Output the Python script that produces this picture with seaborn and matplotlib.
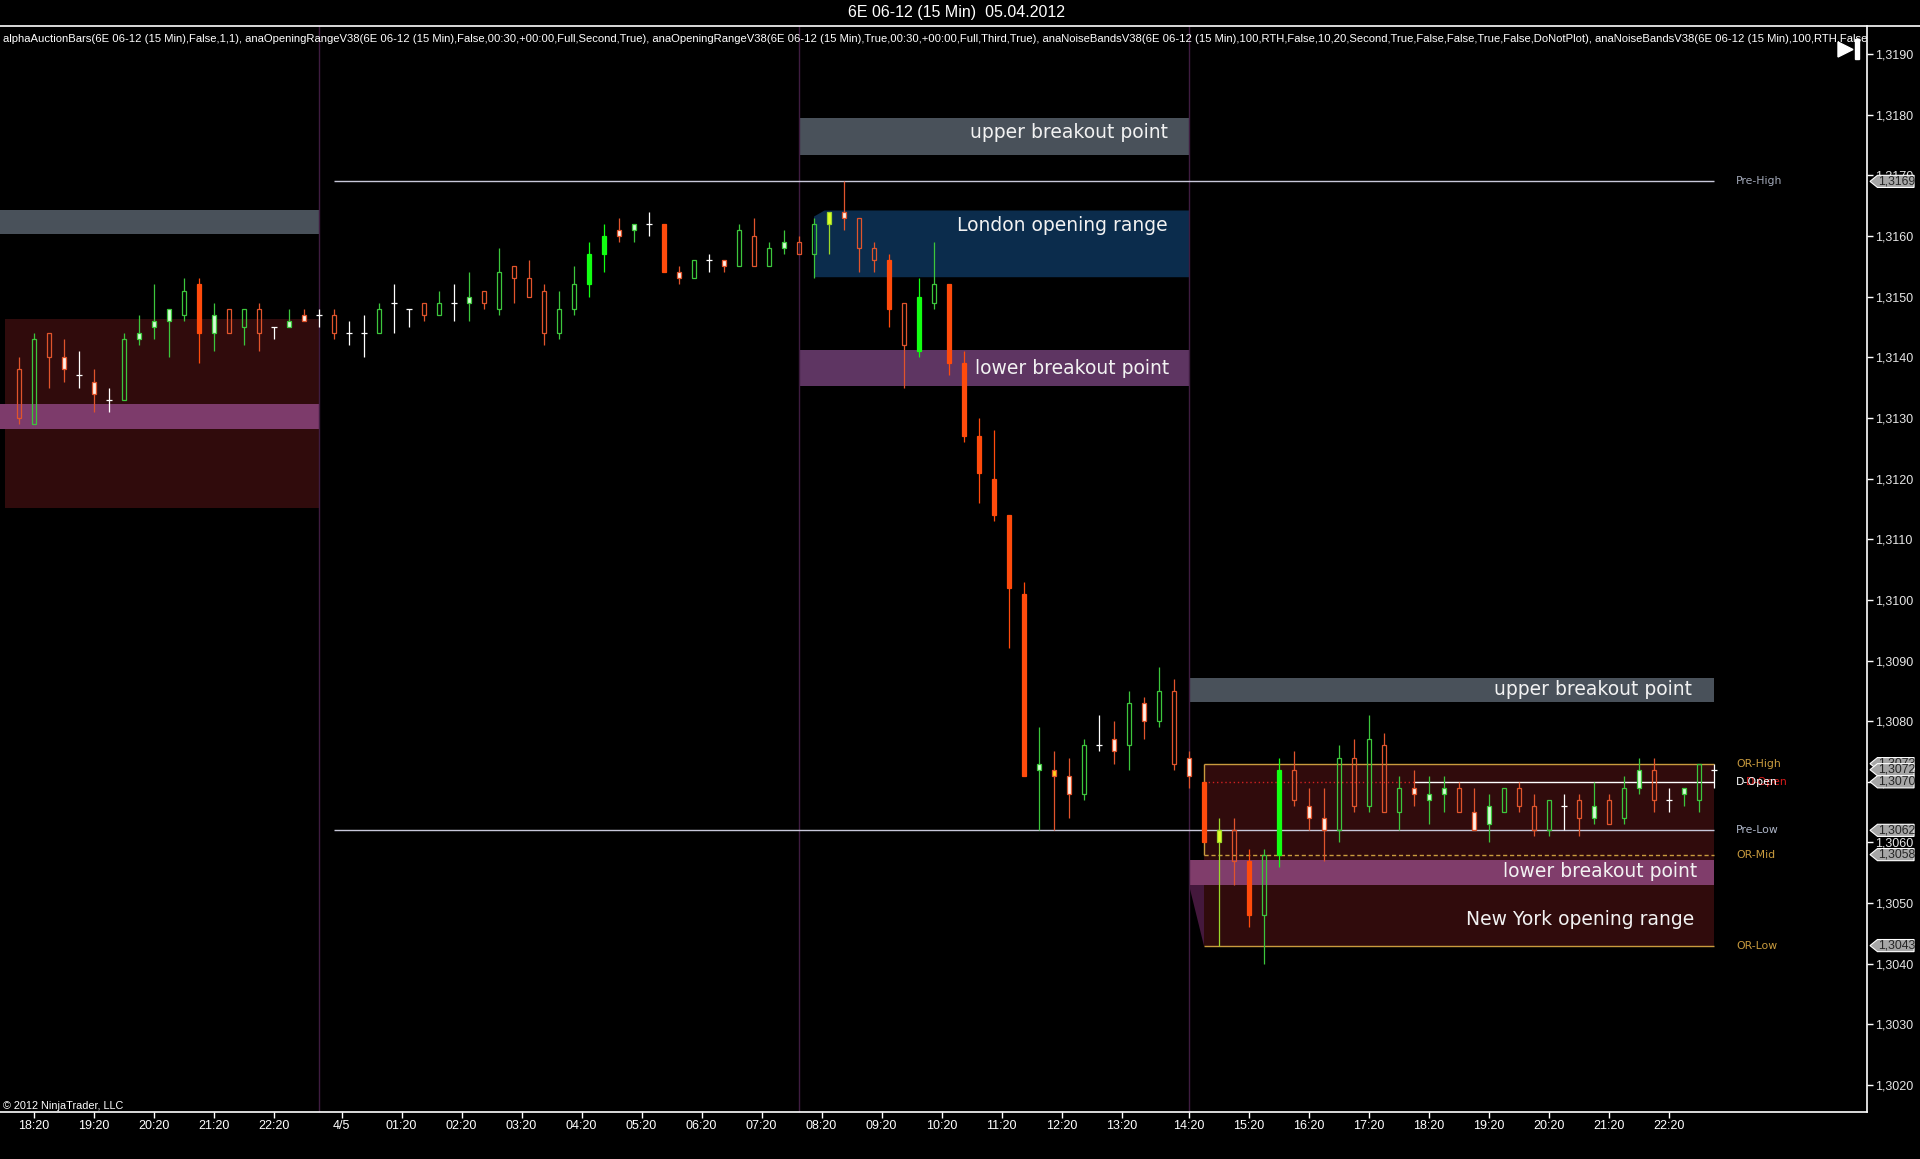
import numpy as np
from matplotlib import pyplot as plt
from matplotlib.patches import Polygon, Rectangle
from matplotlib.lines import Line2D
from matplotlib.ticker import FuncFormatter
import seaborn as sns

# 6E 06-12, 15 min bars, prices in pips (13138 -> 1,3138)
opens = [13138, 13129, 13144, 13140, 13137, 13136, 13133, 13133, 13143, 13145,
         13146, 13147, 13152, 13144, 13148, 13145, 13148, 13145, 13145, 13147,
         13147, 13147, 13144, 13144, 13144, 13149, 13148, 13149, 13147, 13149,
         13149, 13151, 13148, 13155, 13153, 13151, 13144, 13148, 13152, 13157,
         13161, 13161, 13162, 13162, 13154, 13153, 13156, 13156, 13155, 13160,
         13155, 13158, 13159, 13157, 13162, 13164, 13163, 13158, 13156, 13149,
         13141, 13149, 13152, 13139, 13127, 13120, 13114, 13101, 13072, 13072,
         13071, 13068, 13076, 13077, 13076, 13083, 13080, 13085, 13074, 13070,
         13060, 13062, 13057, 13048, 13058, 13072, 13066, 13064, 13062, 13074,
         13066, 13076, 13065, 13069, 13067, 13068, 13069, 13065, 13063, 13065,
         13069, 13066, 13062, 13066, 13067, 13064, 13067, 13064, 13069, 13072,
         13067, 13068, 13067, 13072]
highs = [13140, 13144, 13144, 13143, 13141, 13138, 13135, 13144, 13147, 13152,
         13148, 13153, 13153, 13149, 13148, 13148, 13149, 13145, 13148, 13148,
         13148, 13148, 13146, 13147, 13149, 13152, 13148, 13149, 13151, 13152,
         13154, 13151, 13158, 13155, 13156, 13152, 13151, 13155, 13159, 13162,
         13163, 13162, 13164, 13162, 13155, 13156, 13157, 13156, 13162, 13163,
         13159, 13161, 13160, 13163, 13164, 13169, 13163, 13159, 13157, 13149,
         13153, 13159, 13152, 13141, 13130, 13128, 13114, 13103, 13079, 13075,
         13074, 13077, 13081, 13080, 13085, 13084, 13089, 13087, 13075, 13070,
         13064, 13064, 13059, 13059, 13074, 13075, 13069, 13069, 13076, 13077,
         13081, 13078, 13071, 13072, 13071, 13071, 13070, 13069, 13068, 13069,
         13070, 13068, 13067, 13068, 13068, 13070, 13068, 13071, 13074, 13074,
         13069, 13069, 13073, 13073]
lows = [13129, 13129, 13135, 13136, 13135, 13131, 13131, 13133, 13142, 13143,
        13140, 13146, 13139, 13141, 13144, 13142, 13141, 13143, 13145, 13146,
        13145, 13143, 13142, 13140, 13144, 13144, 13145, 13146, 13147, 13146,
        13146, 13148, 13147, 13149, 13150, 13142, 13143, 13147, 13150, 13154,
        13159, 13159, 13160, 13154, 13152, 13153, 13154, 13154, 13155, 13155,
        13155, 13157, 13157, 13153, 13157, 13161, 13154, 13154, 13145, 13135,
        13140, 13148, 13137, 13126, 13116, 13113, 13092, 13071, 13062, 13062,
        13064, 13067, 13075, 13073, 13072, 13077, 13079, 13072, 13069, 13060,
        13043, 13053, 13046, 13040, 13056, 13066, 13062, 13057, 13060, 13065,
        13065, 13065, 13062, 13066, 13063, 13065, 13065, 13062, 13060, 13065,
        13065, 13061, 13061, 13062, 13061, 13063, 13063, 13063, 13068, 13065,
        13065, 13066, 13065, 13069]
closes = [13130, 13143, 13140, 13138, 13137, 13134, 13133, 13143, 13144, 13146,
          13148, 13151, 13144, 13147, 13144, 13148, 13144, 13145, 13146, 13146,
          13147, 13144, 13144, 13144, 13148, 13149, 13148, 13147, 13149, 13149,
          13150, 13149, 13154, 13153, 13150, 13144, 13148, 13152, 13157, 13160,
          13160, 13162, 13162, 13154, 13153, 13156, 13156, 13155, 13161, 13155,
          13158, 13159, 13157, 13162, 13164, 13163, 13158, 13156, 13148, 13142,
          13150, 13152, 13139, 13127, 13121, 13114, 13102, 13071, 13073, 13071,
          13068, 13076, 13076, 13075, 13083, 13080, 13085, 13073, 13071, 13060,
          13062, 13057, 13048, 13058, 13072, 13067, 13064, 13062, 13074, 13066,
          13077, 13065, 13069, 13068, 13068, 13069, 13065, 13062, 13066, 13069,
          13066, 13062, 13067, 13066, 13064, 13066, 13063, 13069, 13072, 13067,
          13067, 13069, 13073, 13072]
# r/g = down/up, h = hollow, f = filled, l = light fill, y = yellow fill, d = doji
styles = ['rh', 'gh', 'rh', 'rl', 'd', 'rl', 'd', 'gh', 'gl', 'gl',
          'gl', 'gh', 'rf', 'gl', 'rh', 'gh', 'rh', 'd', 'gl', 'rl',
          'd', 'rh', 'd', 'd', 'gh', 'd', 'd', 'rh', 'gh', 'd',
          'gl', 'rh', 'gh', 'rh', 'rh', 'rh', 'gh', 'gh', 'gf', 'gf',
          'rl', 'gl', 'd', 'rf', 'rl', 'gh', 'd', 'rl', 'gh', 'rh',
          'gh', 'gl', 'rh', 'gh', 'gy', 'rl', 'rh', 'rh', 'rf', 'rh',
          'gf', 'gh', 'rf', 'rf', 'rf', 'rf', 'rf', 'rf', 'gl', 'ry',
          'rl', 'gh', 'd', 'rl', 'gh', 'rl', 'gh', 'rh', 'rl', 'rf',
          'gy', 'rh', 'rf', 'gh', 'gf', 'rh', 'rl', 'rl', 'gh', 'rh',
          'gh', 'rh', 'gh', 'rl', 'gl', 'gl', 'rh', 'rl', 'gl', 'gh',
          'rh', 'rh', 'gh', 'd', 'rh', 'gl', 'rh', 'gh', 'gl', 'rh',
          'd', 'gl', 'gh', 'd']

tick_pos = [1, 5, 9, 13, 17, 21.5, 25.5, 29.5, 33.5, 37.5, 41.5, 45.5, 49.5, 53.5,
            57.5, 61.5, 65.5, 69.5, 73.5, 78, 82, 86, 90, 94, 98, 102, 106, 110]
tick_labels = ['18:20', '19:20', '20:20', '21:20', '22:20', '4/5', '01:20', '02:20',
               '03:20', '04:20', '05:20', '06:20', '07:20', '08:20', '09:20', '10:20',
               '11:20', '12:20', '13:20', '14:20', '15:20', '16:20', '17:20', '18:20',
               '19:20', '20:20', '21:20', '22:20']
session_bars = [20, 52, 78]

# opening range zones: (first bar, last bar, low, high, colour)
zones = [(-1.3, 20, 13160.3, 13164.3, '#49515a'),
         (-0.93, 20, 13115.1, 13146.3, '#300b0c'),
         (-1.3, 20, 13128.1, 13132.3, '#7d3b6b'),
         (52, 78, 13173.3, 13179.5, '#49515a'),
         (52, 78, 13135.3, 13141.2, '#5e3562'),
         (78, 113, 13083.2, 13087.1, '#49515a'),
         (79, 113, 13043.0, 13073.0, '#300b0c'),
         (78, 113, 13053.0, 13057.1, '#803d6b')]
zone_texts = [('upper breakout point', 76.6, 13177.1),
              ('London opening range', 76.6, 13161.8),
              ('lower breakout point', 76.7, 13138.1),
              ('upper breakout point', 111.5, 13085.2),
              ('lower breakout point', 111.9, 13055.2),
              ('New York opening range', 111.7, 13047.3)]

pre_high, pre_low = 13169, 13062
or_high, or_mid, or_low, d_open = 13073, 13058, 13043, 13070
tag_prices = [13169, 13073, 13072, 13070, 13062, 13058, 13043]
level_names = ['Pre-High', 'OR-High', 'Pre-Low', 'OR-Mid', 'OR-Low']
level_prices = [pre_high, or_high, pre_low, or_mid, or_low]
level_colors = ['#a2a8b8', '#c99b3e', '#aeb6c8', '#c99b3e', '#c99b3e']

indicators = ("alphaAuctionBars(6E 06-12 (15 Min),False,1,1), anaOpeningRangeV38(6E 06-12 (15 Min),"
              "False,00:30,+00:00,Full,Second,True), anaOpeningRangeV38(6E 06-12 (15 Min),True,00:30,"
              "+00:00,Full,Third,True), anaNoiseBandsV38(6E 06-12 (15 Min),100,RTH,False,10,20,Second,"
              "True,False,False,True,False,DoNotPlot), anaNoiseBandsV38(6E 06-12 (15 Min),100,RTH,False,1")

sns.set_theme(style='dark', rc={'axes.facecolor': 'black', 'figure.facecolor': 'black',
                                'axes.edgecolor': 'white', 'text.color': 'white'})
plt.rcParams['font.family'] = ['DejaVu Sans']
narrow = ['Liberation Sans Narrow', 'Liberation Sans', 'DejaVu Sans']

W, H = 1920, 1159
fig = plt.figure(figsize=(19.2, 11.59), dpi=100)
ax = fig.add_axes([0, 1 - 1112 / H, 1867 / W, (1112 - 25.7) / H])
ax.set_facecolor('black')
ax.grid(False)

o = np.array(opens) / 1e4
h = np.array(highs) / 1e4
lo = np.array(lows) / 1e4
c = np.array(closes) / 1e4
st = np.array(styles)
x = np.arange(len(o))

# zones
for x0, x1, z0, z1, col in zones:
    ax.add_patch(Rectangle((x0, z0 / 1e4), x1 - x0, (z1 - z0) / 1e4, color=col, lw=0, zorder=1))
ax.add_patch(Polygon([(53, 1.31532), (53, 1.31632), (53.7, 1.31642), (78, 1.31642), (78, 1.31532)],
                     closed=True, color='#0b2c4c', lw=0, zorder=1))
ax.add_patch(Polygon([(78, 1.30530), (79, 1.30530), (79, 1.30430)],
                     closed=True, color='#44183c', lw=0, zorder=1))
for txt, tx, ty in zone_texts:
    ax.text(tx, ty / 1e4, txt, ha='right', va='center', fontsize=13.5, color='#f2f2f2', zorder=6)

for sb in session_bars:
    ax.axvline(sb, color='#3e1c40', lw=1, zorder=1.5)

# levels
ax.hlines([pre_high / 1e4, pre_low / 1e4], 21, 113, color='#c8c8da', lw=1, zorder=2)
ax.hlines([or_high / 1e4, or_low / 1e4], 79, 113, color='#c99b3e', lw=1, zorder=2)
ax.hlines(or_mid / 1e4, 79, 113, color='#c99b3e', lw=1, linestyles=(0, (3, 2)), zorder=2)
ax.vlines(79, or_mid / 1e4, or_high / 1e4, color='#c99b3e', lw=1, zorder=2)
ax.hlines(d_open / 1e4, 79, 93, color='#d02020', lw=1, linestyles=(0, (1, 2)), zorder=2)
ax.hlines(d_open / 1e4, 93, 113, color='white', lw=1, zorder=2)

# candles
red, red_f, green, green_f = '#e0542c', '#ff4b0c', '#3cc63c', '#12ff12'
faces = {'rh': 'none', 'rf': red_f, 'rl': '#fff0e6', 'ry': '#ffd21e',
         'gh': 'none', 'gf': green_f, 'gl': '#d6ffd6', 'gy': '#e4ff2a'}
edges = {'rh': red, 'rf': red_f, 'rl': red, 'ry': red,
         'gh': green, 'gf': green_f, 'gl': green, 'gy': '#9ad82a'}
body = st != 'd'
top = np.maximum(o, c)
bot = np.minimum(o, c)
wick_col = [edges[s] for s in st[body]]
ax.vlines(x[body], top[body], h[body], colors=wick_col, lw=0.9, zorder=3)
ax.vlines(x[body], lo[body], bot[body], colors=wick_col, lw=0.9, zorder=3)
ax.bar(x[body], (top - bot)[body], bottom=bot[body], width=0.3,
       color=[faces[s] for s in st[body]], edgecolor=wick_col, linewidth=0.9, zorder=4)
dj = ~body
ax.vlines(x[dj], lo[dj], h[dj], colors='white', lw=0.9, zorder=4)
ax.hlines(o[dj], x[dj] - 0.2, x[dj] + 0.2, colors='white', lw=0.9, zorder=4)

# labels of levels
for name, p, col in zip(level_names, level_prices, level_colors):
    ax.text(114.47, p / 1e4, name, color=col, fontsize=7.8, va='center', ha='left', zorder=6)
ax.text(115.1, d_open / 1e4, 'D-Open', color='#d81c1c', fontsize=7.8, va='center', ha='left', zorder=6)
ax.text(114.47, d_open / 1e4, 'D-Open', color='white', fontsize=7.8, va='center', ha='left', zorder=6)

ax.set_xlim(-1.267, 123.2)
ax.set_ylim(1.301556, 1.319467)

# price tags on the axis
ytr = ax.get_yaxis_transform()
hh = 0.000100
for i, p in enumerate(tag_prices):
    pp = p / 1e4
    ax.add_patch(Polygon([(1.0016, pp), (1.0056, pp + hh), (1.0252, pp + hh), (1.0252, pp - hh),
                          (1.0056, pp - hh)], closed=True, transform=ytr, clip_on=False,
                         facecolor='#a6a6a6', edgecolor='white', lw=0.8, zorder=10 + i))
    ax.text(1.0060, pp, f"{pp:.4f}".replace('.', ','), transform=ytr, clip_on=False,
            fontsize=8.8, family=['Liberation Sans', 'DejaVu Sans'], color='#262626',
            va='center', ha='left', zorder=10 + i)

ax.set_yticks(np.arange(13020, 13191, 10) / 1e4)
ax.yaxis.set_major_formatter(FuncFormatter(lambda v, _: f"{v:.4f}".replace('.', ',')))
ax.yaxis.tick_right()
ax.tick_params(axis='y', right=True, left=False, length=4, width=1, color='white',
               labelsize=9, labelcolor='#e6e6e6', pad=1.5)
for lab in ax.get_yticklabels():
    lab.set_family(['Liberation Sans', 'DejaVu Sans'])
ax.set_xticks(tick_pos)
ax.set_xticklabels(tick_labels)
ax.tick_params(axis='x', bottom=True, length=4, width=1, color='white',
               labelsize=9, labelcolor='white', pad=2)
for lab in ax.get_xticklabels():
    lab.set_family(narrow)

for side in ['left', 'top']:
    ax.spines[side].set_visible(False)
for side in ['right', 'bottom']:
    ax.spines[side].set_color('white')
    ax.spines[side].set_linewidth(1.2)

# header and decorations
fig.add_artist(Line2D([0, 1], [1 - 25.7 / H] * 2, color='white', lw=1.2, transform=fig.transFigure))
fig.text(956 / W, 1 - 13 / H, '6E 06-12 (15 Min)  05.04.2012', ha='center', va='center',
         fontsize=11.5, family=narrow, color='white')
ax.text(0.0016, 1 - (39 - 25.7) / 1086.3, indicators, transform=ax.transAxes, ha='left',
        va='center', fontsize=8.1, family=narrow, color='white', clip_on=True, zorder=7)
ax.text(0.0016, 1 - (1106 - 25.7) / 1086.3, '\u00a9 2012 NinjaTrader, LLC', transform=ax.transAxes,
        ha='left', va='center', fontsize=7.8, family=narrow, color='white', zorder=7)
fig.add_artist(Polygon([[1838 / W, 1 - 42 / H], [1838 / W, 1 - 57 / H], [1853 / W, 1 - 49.5 / H]],
                       closed=True, color='white', transform=fig.transFigure))
fig.add_artist(Rectangle((1855 / W, 1 - 59 / H), 4 / W, 20 / H, color='white',
                         transform=fig.transFigure))

fig.savefig('out.png', dpi=100, facecolor='black')
